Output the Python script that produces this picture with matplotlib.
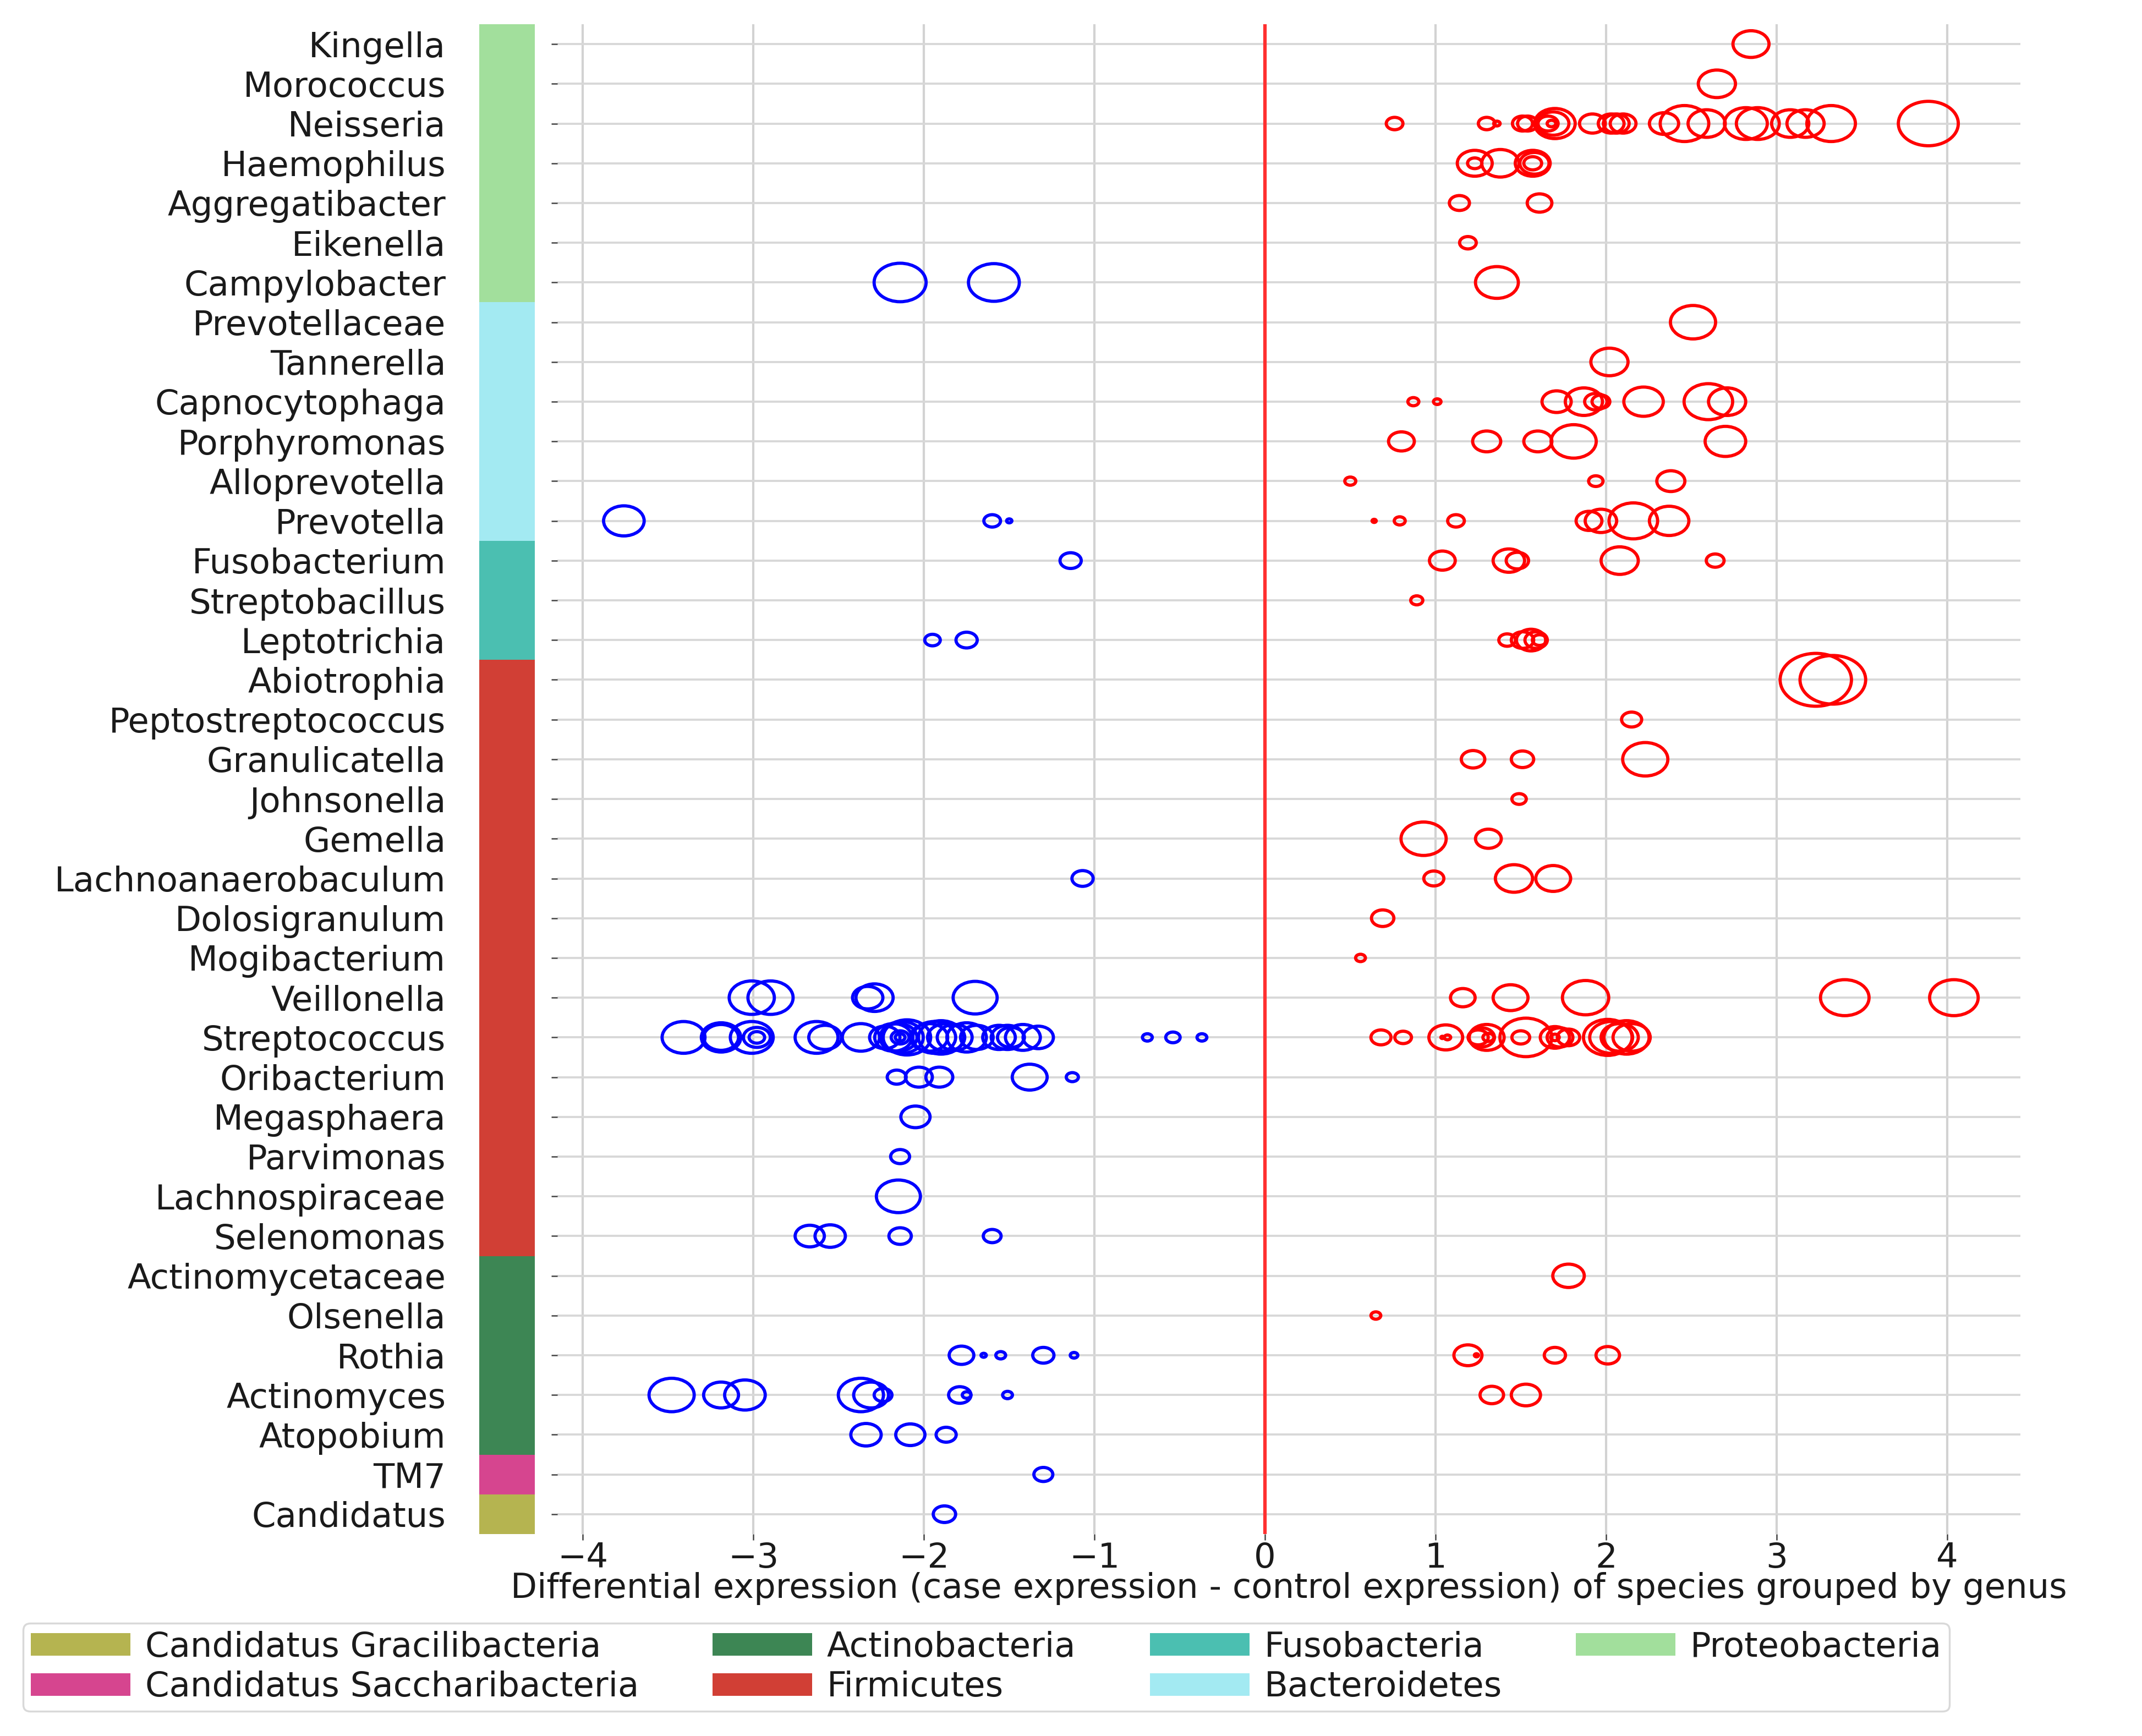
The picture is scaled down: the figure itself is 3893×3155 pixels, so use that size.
import matplotlib
matplotlib.use("Agg")
import matplotlib.pyplot as plt
from matplotlib.path import Path
from matplotlib.transforms import Affine2D, blended_transform_factory
from matplotlib.patches import Patch, Rectangle

# ---------------- data ----------------
genera = ["Kingella", "Morococcus", "Neisseria", "Haemophilus", "Aggregatibacter",
          "Eikenella", "Campylobacter", "Prevotellaceae", "Tannerella", "Capnocytophaga",
          "Porphyromonas", "Alloprevotella", "Prevotella", "Fusobacterium", "Streptobacillus",
          "Leptotrichia", "Abiotrophia", "Peptostreptococcus", "Granulicatella", "Johnsonella",
          "Gemella", "Lachnoanaerobaculum", "Dolosigranulum", "Mogibacterium", "Veillonella",
          "Streptococcus", "Oribacterium", "Megasphaera", "Parvimonas", "Lachnospiraceae",
          "Selenomonas", "Actinomycetaceae", "Olsenella", "Rothia", "Actinomyces",
          "Atopobium", "TM7", "Candidatus"]

phyla = ["Proteobacteria", "Bacteroidetes", "Fusobacteria", "Firmicutes",
         "Actinobacteria", "Candidatus Saccharibacteria", "Candidatus Gracilibacteria"]
phylum_genus_counts = [7, 6, 3, 15, 5, 1, 1]
phylum_colors = ["#a2df9c", "#a3eaf2", "#4bbfb1", "#d13f35",
                 "#3d8654", "#d6458f", "#b5b450"]
legend_order = ["Candidatus Gracilibacteria", "Candidatus Saccharibacteria",
                "Actinobacteria", "Firmicutes", "Fusobacteria", "Bacteroidetes",
                "Proteobacteria"]

point_genus = (["Kingella"] * 1 + ["Morococcus"] * 1 + ["Neisseria"] * 22 +
               ["Haemophilus"] * 6 + ["Aggregatibacter"] * 2 + ["Eikenella"] * 1 +
               ["Campylobacter"] * 3 + ["Prevotellaceae"] * 1 + ["Tannerella"] * 1 +
               ["Capnocytophaga"] * 9 + ["Porphyromonas"] * 5 + ["Alloprevotella"] * 3 +
               ["Prevotella"] * 10 + ["Fusobacterium"] * 6 + ["Streptobacillus"] * 1 +
               ["Leptotrichia"] * 7 + ["Abiotrophia"] * 2 + ["Peptostreptococcus"] * 1 +
               ["Granulicatella"] * 3 + ["Johnsonella"] * 1 + ["Gemella"] * 2 +
               ["Lachnoanaerobaculum"] * 4 + ["Dolosigranulum"] * 1 + ["Mogibacterium"] * 1 +
               ["Veillonella"] * 10 + ["Streptococcus"] * 51 + ["Oribacterium"] * 5 +
               ["Megasphaera"] * 1 + ["Parvimonas"] * 1 + ["Lachnospiraceae"] * 1 +
               ["Selenomonas"] * 4 + ["Actinomycetaceae"] * 1 + ["Olsenella"] * 1 +
               ["Rothia"] * 9 + ["Actinomyces"] * 11 + ["Atopobium"] * 3 +
               ["TM7"] * 1 + ["Candidatus"] * 1)

point_diff = [
    2.85,
    2.65,
    0.76, 1.30, 1.36, 1.51, 1.54, 1.66, 1.69, 1.70, 1.68, 1.92, 2.03, 2.06, 2.10, 2.34,
    2.46, 2.59, 2.82, 2.89, 3.08, 3.17, 3.32, 3.89,
    1.23, 1.23, 1.38, 1.57, 1.57, 1.58,
    1.14, 1.61,
    1.19,
    1.36, -2.14, -1.59,
    2.51,
    2.02,
    0.87, 1.01, 1.71, 1.87, 1.94, 1.97, 2.22, 2.60, 2.71,
    0.80, 1.30, 1.60, 1.81, 2.70,
    0.50, 1.94, 2.38,
    0.64, 0.79, 1.12, 1.90, 1.97, 2.16, 2.37, -3.76, -1.60, -1.50,
    1.04, 1.43, 1.48, 2.08, 2.64, -1.14,
    0.89,
    1.42, 1.51, 1.56, 1.59, 1.61, -1.95, -1.75,
    3.23, 3.33,
    2.15,
    1.22, 1.51, 2.23,
    1.49,
    0.93, 1.31,
    0.99, 1.46, 1.69, -1.07,
    0.69,
    0.56,
    1.16, 1.44, 1.88, 3.40, 4.04, -3.01, -2.90, -2.33, -2.29, -1.70,
    0.68, 0.81, 1.06, 1.07, 1.04, 1.25, 1.27, 1.30, 1.31, 1.50, 1.53, 1.70, 1.73, 1.78,
    1.70, 2.01, 2.03, 2.08, 2.12, 2.15,
    -3.41, -3.19, -3.19, -3.01, -2.98, -2.98, -2.63, -2.58, -2.37, -2.23, -2.18, -2.15,
    -2.13, -2.10, -2.14, -2.14, -1.97, -1.94, -1.90, -1.87, -1.82, -1.75, -1.69, -1.56,
    -1.51, -1.49, -1.42, -1.33, -0.69, -0.54, -0.37,
    -2.16, -2.03, -1.91, -1.38, -1.13,
    -2.05,
    -2.14,
    -2.15,
    -2.67, -2.55, -2.14, -1.60,
    1.78,
    0.65,
    1.19, 1.24, 1.70, 2.01, -1.78, -1.65, -1.55, -1.30, -1.12,
    1.33, 1.53, -3.48, -3.19, -3.05, -2.37, -2.31, -2.24, -1.79, -1.75, -1.51,
    -2.34, -2.08, -1.87,
    -1.30,
    -1.88,
]

point_weight = [
    34,
    35,
    17, 17, 8, 20, 20, 20, 30, 38, 10, 25, 25, 25, 25, 28, 45, 35, 40, 40, 35, 35, 45, 55,
    33, 15, 35, 33, 18, 28,
    20, 24,
    17,
    40, 48, 47,
    42,
    35,
    12, 9, 28, 35, 22, 18, 37, 45, 35,
    25, 27, 27, 42, 38,
    12, 15, 27,
    6, 12, 17, 25, 30, 45, 37, 38, 17, 7,
    25, 30, 22, 35, 18, 21,
    13,
    17, 22, 28, 22, 15, 16, 21,
    65, 60,
    20,
    23, 22, 42,
    15,
    42, 25,
    20, 35, 33, 21,
    22,
    11,
    24, 33, 43, 45, 45, 42, 42, 29, 35, 41,
    20, 17, 32, 8, 5, 20, 25, 33, 12, 18, 48, 28, 25, 22, 10, 45, 40, 35, 42, 35,
    40, 37, 33, 40, 26, 16, 40, 31, 35, 29, 35, 35, 40, 44, 11, 18, 35, 40, 42, 35,
    33, 37, 31, 31, 31, 26, 33, 29, 11, 15, 11,
    19, 26, 26, 33, 13,
    28,
    19,
    41,
    28, 29, 22, 18,
    30,
    11,
    27, 6, 21, 23, 24, 7, 11, 21, 9,
    23, 28, 42, 33, 38, 42, 33, 18, 22, 10, 11,
    29, 28, 20,
    19,
    22,
]

x_label = "Differential expression (case expression - control expression) of species grouped by genus"
x_ticks = [-4, -3, -2, -1, 0, 1, 2, 3, 4]

# ---------------- figure ----------------
W, H, DPI = 3893, 3155, 100
FS = 45
plt.rcParams["font.family"] = ["DejaVu Sans"]
fig = plt.figure(figsize=(W / DPI, H / DPI), dpi=DPI)
fig.patch.set_facecolor("white")

ax_left, ax_right, ax_top, ax_bottom = 1013, 3672, 44, 2788
ax = fig.add_axes([ax_left / W, 1 - ax_bottom / H,
                   (ax_right - ax_left) / W, (ax_bottom - ax_top) / H])

# horizontally widened circle marker (the reference image is stretched sideways)
ring = Affine2D().scale(1.35, 1.0).transform_path(Path.unit_circle())

ypos = [genera.index(g) for g in point_genus]
colors = ["red" if d > 0 else "blue" for d in point_diff]
sizes = [max(1.49 * w - 3.5, 2.0) ** 2 for w in point_weight]
ax.scatter(point_diff, ypos, s=sizes, marker=ring, facecolors="none",
           edgecolors=colors, linewidths=4.2, zorder=3)

ax.axvline(0, color="#ff3030", lw=4.5, zorder=2)

ax.set_xlim(-4.15, 4.43)
ax.set_ylim(len(genera) - 0.5, -0.5)
ax.set_yticks(range(len(genera)))
ax.set_yticklabels(genera)
ax.set_xticks(x_ticks)
ax.set_xticklabels([("\u2212%d" % -t) if t < 0 else str(t) for t in x_ticks])

for s in ax.spines.values():
    s.set_visible(False)

ax.tick_params(axis="y", length=8, width=1.8, color="#444444", pad=138,
               labelsize=FS, labelcolor="#1a1a1a")
ax.tick_params(axis="x", length=8, width=1.8, color="#444444", pad=2,
               labelsize=FS, labelcolor="#1a1a1a")
ax.set_axisbelow(True)
ax.xaxis.grid(True, color="#d2d2d2", lw=3.0)
ax.yaxis.grid(True, color="#d8d8d8", lw=2.8)

ax.set_xlabel(x_label, fontsize=FS, color="#1a1a1a", va="center")
ax.xaxis.set_label_coords(0.5, (ax_bottom - 2887) / (ax_bottom - ax_top))

# phylum colour strip
trans = blended_transform_factory(ax.transAxes, ax.transData)
bar_x0 = (871 - ax_left) / (ax_right - ax_left)
bar_w = (972 - 871) / (ax_right - ax_left)
start = 0
for n, c in zip(phylum_genus_counts, phylum_colors):
    ax.add_patch(Rectangle((bar_x0, start - 0.5), bar_w, n, transform=trans,
                           facecolor=c, edgecolor="none", clip_on=False, zorder=1))
    start += n

# legend
handles = [Patch(facecolor=phylum_colors[phyla.index(p)], edgecolor="none")
           for p in legend_order]
fs_px = FS * DPI / 72.0
leg = fig.legend(handles, legend_order, loc="upper left",
                 bbox_to_anchor=(42 / W, 1 - 2950 / H), ncol=4, fontsize=FS,
                 handlelength=181 / fs_px, handleheight=39 / fs_px,
                 handletextpad=27 / fs_px, columnspacing=134 / fs_px,
                 borderpad=0.22, labelspacing=0.2, borderaxespad=0,
                 frameon=True, fancybox=True)
leg.get_frame().set_edgecolor("#d0d0d0")
leg.get_frame().set_linewidth(2.5)
for t in leg.get_texts():
    t.set_color("#1a1a1a")

fig.savefig("out.png", dpi=DPI, facecolor="white")
